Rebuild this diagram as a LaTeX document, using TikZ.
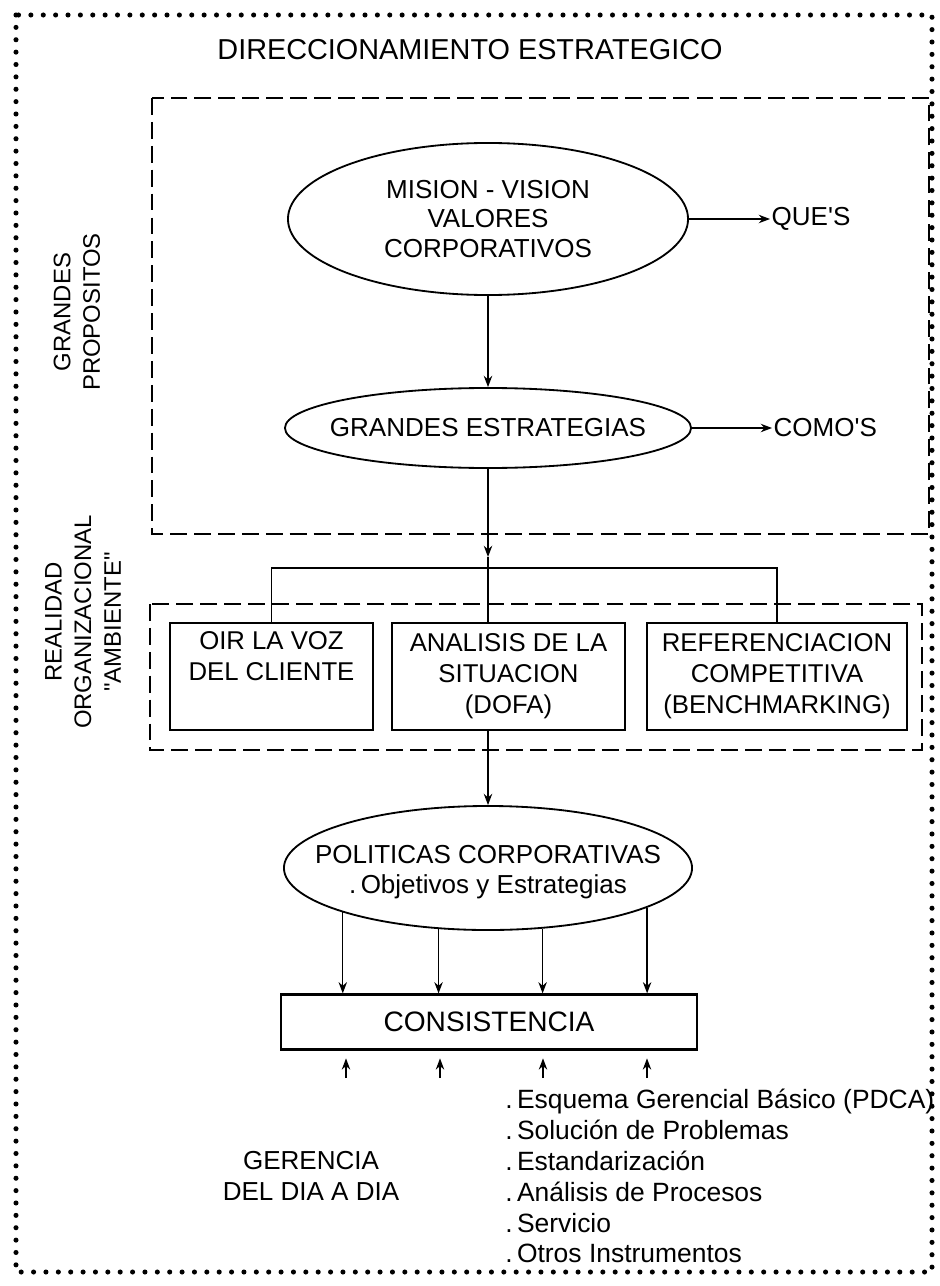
\documentclass[tikz,border=0pt]{standalone}
\usepackage{fontspec}
\setmainfont{Liberation Sans}
\usetikzlibrary{shapes.geometric, arrows.meta, calc}

\begin{document}
\begin{tikzpicture}[
  x=0.025cm, y=-0.025cm,
  bubble/.style={draw, ellipse, line width=1.3pt, inner sep=0pt},
  boxnode/.style={
    draw, rectangle, line width=1.6pt, inner sep=2pt, align=center,
    minimum height=2.675cm, font=\fontsize{18.3}{22}\selectfont
  },
  txt/.style={font=\fontsize{18.5}{21.3}\selectfont, align=center, inner sep=1pt},
  sidetxt/.style={font=\fontsize{17}{21}\selectfont, align=center, rotate=90},
  arrow/.style={-{Stealth[length=8pt,width=6pt]}, line width=1pt},
  link/.style={line width=1pt},
  dashbox/.style={line width=1.4pt, dash pattern=on 12pt off 5pt},
  dotframe/.style={line width=3.6pt, line cap=round, dash pattern=on 0pt off 8.8pt}
]

\useasboundingbox (0,0) rectangle (939,1286);

% outer frame
\draw[dotframe] (16,15) rectangle (932,1272);

\node[txt, font=\fontsize{20.5}{24}\selectfont] (title) at (470,50) {DIRECCIONAMIENTO ESTRATEGICO};

% grandes propositos
\draw[dashbox] (152,98) rectangle (929,534);
\node[sidetxt] (gp) at (77,312) {GRANDES\\PROPOSITOS};

\node[bubble, minimum width=10cm, minimum height=3.8cm] (e1) at (488,219) {};
\node[txt] (t1) at (e1) {MISION - VISION\\VALORES\\CORPORATIVOS};
\node[txt, anchor=west] (ques) at (770,219) {QUE\textquotesingle S};

\node[bubble, minimum width=10.15cm, minimum height=2cm] (e2) at (488,428) {};
\node[txt] (t2) at (e2) {GRANDES ESTRATEGIAS};
\node[txt, anchor=west] (comos) at (772,428) {COMO\textquotesingle S};

\draw[arrow] (e1.east) -- (ques.west);
\draw[arrow] (e2.east) -- (comos.west);
\draw[arrow] (e1) -- (e2);

\coordinate (tipA) at (488,557);
\coordinate (jn) at (488,568);
\draw[arrow] (e2.south) -- (tipA);
\draw[link] (tipA) -- (jn);

% realidad organizacional
\draw[dashbox] (150,604) rectangle (922,750);
\node[sidetxt] (ro) at (83,622) {REALIDAD\\ORGANIZACIONAL\\\textquotedbl AMBIENTE\textquotedbl};

\node[boxnode, minimum width=5.075cm] (bA) at (271.5,676.5) {OIR LA VOZ\\DEL CLIENTE\\\strut};
\node[boxnode, minimum width=5.825cm] (bB) at (508.5,676.5) {ANALISIS DE LA\\SITUACION\\(DOFA)};
\node[boxnode, minimum width=6.5cm] (bC) at (777,676.5) {REFERENCIACION\\COMPETITIVA\\(BENCHMARKING)};

\draw[link] (bA.north) -- (bA.north |- jn) -- (bC.north |- jn) -- (bC.north);
\draw[link] (jn) -- (jn |- bB.north);

% politicas
\node[bubble, minimum width=10.2cm, minimum height=3.1cm] (e3) at (488,868) {};
\node[txt] (t3) at (488,872) {POLITICAS CORPORATIVAS\\.\,Objetivos y Estrategias};
\draw[arrow] (jn |- bB.south) -- (e3.north);

\node[boxnode, minimum width=10.4cm, minimum height=1.375cm, font=\fontsize{20}{24}\selectfont] (cons) at (489,1022) {CONSISTENCIA};

\draw[arrow] (e3.197) -- (e3.197 |- cons.north);
\draw[arrow] (e3.231) -- (e3.231 |- cons.north);
\draw[arrow] (e3.312) -- (e3.312 |- cons.north);
\draw[arrow] (e3.346) -- (e3.346 |- cons.north);

\coordinate (u1) at (346,1078);
\coordinate (u2) at (440,1078);
\coordinate (u3) at (543,1078);
\coordinate (u4) at (647,1078);
\draw[arrow, shorten >=5.5pt] (u1) -- (u1 |- cons.south);
\draw[arrow, shorten >=5.5pt] (u2) -- (u2 |- cons.south);
\draw[arrow, shorten >=5.5pt] (u3) -- (u3 |- cons.south);
\draw[arrow, shorten >=5.5pt] (u4) -- (u4 |- cons.south);

% gerencia del dia a dia
\node[txt, font=\fontsize{18.5}{22}\selectfont] (ger) at (311,1176) {GERENCIA\\DEL DIA A DIA};
\node[txt, font=\fontsize{18.8}{22}\selectfont, align=left, anchor=west, inner sep=0pt] (tools) at (505,1176)
  {.\,Esquema Gerencial Básico (PDCA)\\.\,Solución de Problemas\\.\,Estandarización\\.\,Análisis de Procesos\\.\,Servicio\\.\,Otros Instrumentos};

\end{tikzpicture}
\end{document}
